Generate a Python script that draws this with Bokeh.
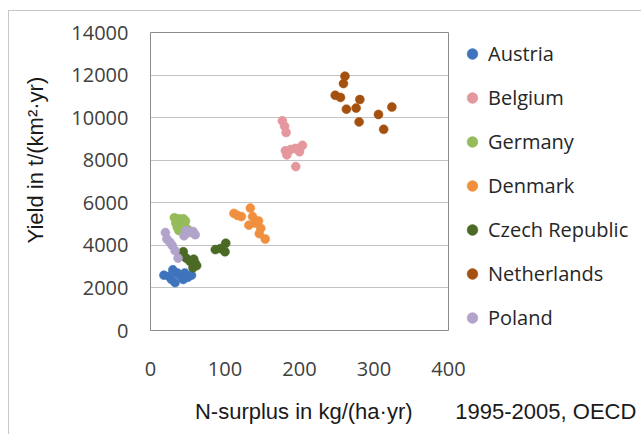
from bokeh.plotting import figure
from bokeh.models import Legend, LegendItem, FixedTicker, Range1d
from bokeh.embed import file_html
from bokeh.resources import INLINE

# ---- data ----
countries = ["Austria", "Belgium", "Germany", "Denmark", "Czech Republic",
             "Netherlands", "Poland"]
colors = ["#3f74bd", "#e4979c", "#95bb5a", "#f0903f", "#4b6a25",
          "#a4500f", "#b2a3cb"]

austria_x = [18, 25, 30, 33, 36, 40, 44, 46, 50, 55, 28]
austria_y = [2600, 2550, 2850, 2250, 2700, 2600, 2400, 2700, 2500, 2600, 2400]

belgium_x = [177, 180, 182, 181, 183, 188, 194, 200, 204, 198, 195]
belgium_y = [9850, 9600, 9300, 8450, 8250, 8500, 8550, 8400, 8700, 8550, 7700]

germany_x = [32, 38, 44, 47, 34, 40, 36, 42, 46, 50, 38]
germany_y = [5300, 5250, 5250, 5150, 5050, 5000, 4850, 4800, 4900, 4750, 4700]

denmark_x = [112, 117, 122, 134, 137, 132, 140, 145, 148, 146, 154]
denmark_y = [5500, 5400, 5350, 5750, 5350, 4950, 5050, 5150, 4800, 4550, 4300]

czech_x = [44, 48, 53, 58, 60, 57, 62, 87, 94, 101, 100]
czech_y = [3700, 3400, 3250, 3350, 3150, 2950, 3050, 3800, 3850, 4100, 3700]

netherlands_x = [261, 259, 248, 255, 263, 276, 281, 280, 306, 324, 313]
netherlands_y = [11950, 11600, 11050, 10950, 10400, 10450, 10850, 9800, 10150,
                 10500, 9450]

poland_x = [20, 22, 26, 29, 33, 37, 45, 48, 52, 57, 60]
poland_y = [4600, 4300, 4150, 4000, 3750, 3400, 4450, 4700, 4600, 4650, 4500]

series_x = [austria_x, belgium_x, germany_x, denmark_x, czech_x,
            netherlands_x, poland_x]
series_y = [austria_y, belgium_y, germany_y, denmark_y, czech_y,
            netherlands_y, poland_y]

x_ticks = [0, 100, 200, 300, 400]
y_ticks = [0, 2000, 4000, 6000, 8000, 10000, 12000, 14000]

x_title = "N-surplus in kg/(ha·yr)"
y_title = "Yield in t/(km²·yr)"
source_note = "1995-2005, OECD"

NB = "\u00a0"

# ---- figure ----
p = figure(frame_width=298, frame_height=298, output_backend="svg",
           toolbar_location=None,
           x_range=Range1d(0, 400), y_range=Range1d(0, 14000),
           min_border_left=150, min_border_right=193,
           min_border_top=32, min_border_bottom=104)
p.background_fill_color = "white"
p.border_fill_color = None
# thin light frame around the whole chart (left and top edges visible)
p.styles = {"background-color": "white",
            "box-shadow": "inset 8px 10px 0 0 white, inset 9px 11px 0 0 #c8c8c8"}
p.outline_line_color = "#8a8a8a"
p.outline_line_width = 1

p.xgrid.visible = False
p.ygrid.grid_line_color = "#c4c4c4"
p.ygrid.grid_line_width = 1
p.ygrid.ticker = FixedTicker(ticks=y_ticks)

for ax in (p.xaxis[0], p.yaxis[0]):
    ax.axis_line_color = None
    ax.major_tick_line_color = None
    ax.minor_tick_line_color = None
    ax.major_tick_out = 0
    ax.major_tick_in = 0
    ax.minor_tick_out = 0
    ax.major_label_text_font = "Open Sans"
    ax.major_label_text_font_size = "20px"
    ax.major_label_text_color = "#404040"
    ax.axis_label_text_font = "Liberation Sans"
    ax.axis_label_text_font_size = "22px"
    ax.axis_label_text_font_style = "normal"
    ax.axis_label_text_color = "#1a1a1a"
p.xaxis[0].ticker = FixedTicker(ticks=x_ticks)
p.yaxis[0].ticker = FixedTicker(ticks=y_ticks)
p.xaxis[0].major_label_standoff = 31
p.yaxis[0].major_label_standoff = 22
# x title and the source note share the line below the axis
p.xaxis[0].axis_label = NB * 38 + x_title + NB * 7 + source_note
p.xaxis[0].axis_label_standoff = 20
p.yaxis[0].axis_label = NB * 7 + y_title
p.yaxis[0].axis_label_standoff = 20

renderers = []
for xs, ys, c in zip(series_x, series_y, colors):
    r = p.scatter(xs, ys, size=9, fill_color=c, line_color=c, line_width=0.5)
    renderers.append(r)

legend = Legend(items=[LegendItem(label=n, renderers=[r])
                       for n, r in zip(countries, renderers)],
                location="top_left")
legend.background_fill_alpha = 0
legend.border_line_alpha = 0
legend.padding = 8
legend.margin = 0
legend.glyph_width = 32
legend.glyph_height = 27
legend.label_height = 27
legend.spacing = 17
legend.label_standoff = 0
legend.label_text_font = "Open Sans"
legend.label_text_font_size = "20px"
legend.label_text_color = "#262626"
p.add_layout(legend, "right")

open("out.html", "w").write(file_html(p, INLINE))
